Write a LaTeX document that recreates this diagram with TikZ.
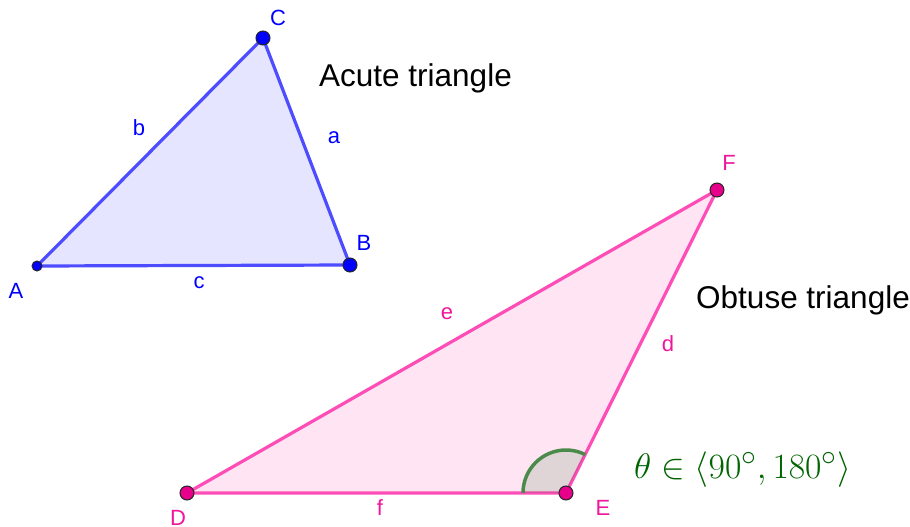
\documentclass[tikz,border=0pt]{standalone}
\usepackage{graphicx}
\usepackage{fontspec}
\setsansfont{Liberation Sans}
\definecolor{blueline}{HTML}{4D4DFF}
\definecolor{bluefill}{HTML}{E5E5FF}
\definecolor{bluept}{HTML}{0000FF}
\definecolor{bluetxt}{HTML}{0000FF}
\definecolor{pinkline}{HTML}{FF4DB8}
\definecolor{pinkfill}{HTML}{FFE5F4}
\definecolor{pinkpt}{HTML}{E6008A}
\definecolor{pinktxt}{HTML}{F0169C}
\definecolor{angfill}{HTML}{006400}
\definecolor{angline}{HTML}{4A8A4A}
\definecolor{thetatxt}{HTML}{006400}
\tikzset{
  blueedge/.style={draw=blueline, line width=3.2pt, line join=round},
  pinkedge/.style={draw=pinkline, line width=3.2pt, line join=round},
  ptbase/.style={circle, inner sep=0pt, draw=black!85, line width=1pt},
  bluedot/.style={ptbase, fill=bluept, minimum size=14pt},
  bluedotsmall/.style={ptbase, fill=bluept, minimum size=10pt},
  pinkdot/.style={ptbase, fill=pinkpt, minimum size=14pt},
  bluelab/.style={text=bluetxt, font=\sffamily\fontsize{22}{26}\selectfont, inner sep=0pt},
  pinklab/.style={text=pinktxt, font=\sffamily\fontsize{22}{26}\selectfont, inner sep=0pt},
  title/.style={text=black, font=\sffamily\fontsize{31.5}{38}\selectfont, inner sep=0pt, anchor=west},
}
\begin{document}
\begin{tikzpicture}[x=1pt,y=-1pt]
\useasboundingbox (0,0) rectangle (910,527);
% acute triangle
\coordinate (A) at (37,266);
\coordinate (B) at (350,265);
\coordinate (C) at (263,38);
\fill[bluefill] (A) -- (B) -- (C) -- cycle;
\draw[blueedge] (A) -- (B) -- (C) -- cycle;
\node[bluedotsmall] (pA) at (A) {};
\node[bluedot] (pB) at (B) {};
\node[bluedot] (pC) at (C) {};
\node[bluelab] (lA) at (16,291) {A};
\node[bluelab] (lB) at (364,243) {B};
\node[bluelab] (lC) at (278,18) {C};
\node[bluelab] (la) at (334,138) {a};
\node[bluelab] (lb) at (139,128) {b};
\node[bluelab] (lc) at (199,283) {c};
\node[title] (tacute) at (319,78) {Acute triangle};
% obtuse triangle
\coordinate (D) at (187,493);
\coordinate (E) at (566,493);
\coordinate (F) at (717,190);
\fill[pinkfill] (D) -- (E) -- (F) -- cycle;
\draw[pinkedge] (D) -- (E) -- (F) -- cycle;
\fill[angfill, fill opacity=0.12] (E) -- ++(180:43) arc[start angle=180, end angle=296.5, radius=43] -- cycle;
\draw[angline, line width=3.5pt] ([shift={(180:43)}]E) arc[start angle=180, end angle=296.5, radius=43];
\node[pinkdot] (pD) at (D) {};
\node[pinkdot] (pE) at (E) {};
\node[pinkdot] (pF) at (F) {};
\node[pinklab] (lD) at (178,518) {D};
\node[pinklab] (lE) at (603,508) {E};
\node[pinklab] (lF) at (729,163) {F};
\node[pinklab] (ld) at (668,344) {d};
\node[pinklab] (le) at (447,314) {e};
\node[pinklab] (lf) at (380,508) {f};
\node[title] (tobtuse) at (696,300) {Obtuse triangle};
\node[text=thetatxt, inner sep=0pt, anchor=west] (theta) at (634,470) {\scalebox{1.43}{\fontsize{24.88}{30}\selectfont $\theta\in\langle 90^\circ,180^\circ\rangle$}};
\end{tikzpicture}
\end{document}
